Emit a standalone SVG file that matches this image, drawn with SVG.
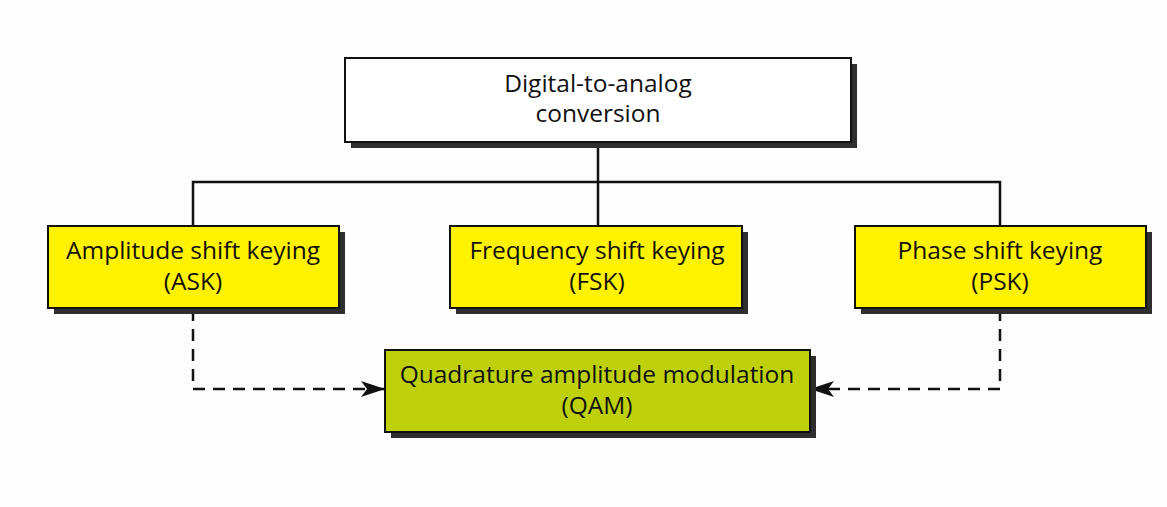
<svg xmlns="http://www.w3.org/2000/svg" width="1167" height="507" viewBox="0 0 1167 507">
<defs>
<style>
.box{stroke:#111;stroke-width:2}
.shadow{fill:#2e2e2e}
.t{font-family:"Open Sans","Liberation Sans",sans-serif;font-size:24.5px;fill:#111;text-anchor:middle}
.solid{fill:none;stroke:#111;stroke-width:2.5}
.dash{fill:none;stroke:#111;stroke-width:2.5;stroke-dasharray:12 8}
</style>
<marker id="arr" viewBox="0 0 24 16" refX="23" refY="8" markerWidth="24" markerHeight="16" markerUnits="userSpaceOnUse" orient="auto">
<path d="M0,0 L24,8 L0,16 L6,8 Z" fill="#111"/>
</marker>
</defs>
<rect width="1167" height="507" fill="#fdfdfd"/>
<g id="connectors">
<path class="solid" d="M598,141 V226 M193,226 V182 H1000 V226"/>
<path class="dash" d="M193,309 V389 H384" marker-end="url(#arr)"/>
<path class="dash" d="M1000,309 V389 H811" marker-end="url(#arr)"/>
</g>
<g id="dac">
<rect class="shadow" x="351" y="64" width="506" height="84"/>
<rect class="box" x="345" y="58" width="506" height="84" fill="#ffffff"/>
<text class="t" x="598" y="92">Digital-to-analog</text>
<text class="t" x="598" y="122">conversion</text>
</g>
<g id="ask">
<rect class="shadow" x="54" y="232" width="291" height="82"/>
<rect class="box" x="48" y="226" width="291" height="82" fill="#fff200"/>
<text class="t" x="193" y="259">Amplitude shift keying</text>
<text class="t" x="193" y="290">(ASK)</text>
</g>
<g id="fsk">
<rect class="shadow" x="456" y="232" width="292" height="82"/>
<rect class="box" x="450" y="226" width="292" height="82" fill="#fff200"/>
<text class="t" x="597" y="259">Frequency shift keying</text>
<text class="t" x="597" y="290">(FSK)</text>
</g>
<g id="psk">
<rect class="shadow" x="861" y="232" width="291" height="82"/>
<rect class="box" x="855" y="226" width="291" height="82" fill="#fff200"/>
<text class="t" x="1000" y="259">Phase shift keying</text>
<text class="t" x="1000" y="290">(PSK)</text>
</g>
<g id="qam">
<rect class="shadow" x="391" y="356" width="425" height="82"/>
<rect class="box" x="385" y="350" width="425" height="82" fill="#bdd00a"/>
<text class="t" x="597" y="383">Quadrature amplitude modulation</text>
<text class="t" x="597" y="414">(QAM)</text>
</g>
</svg>
